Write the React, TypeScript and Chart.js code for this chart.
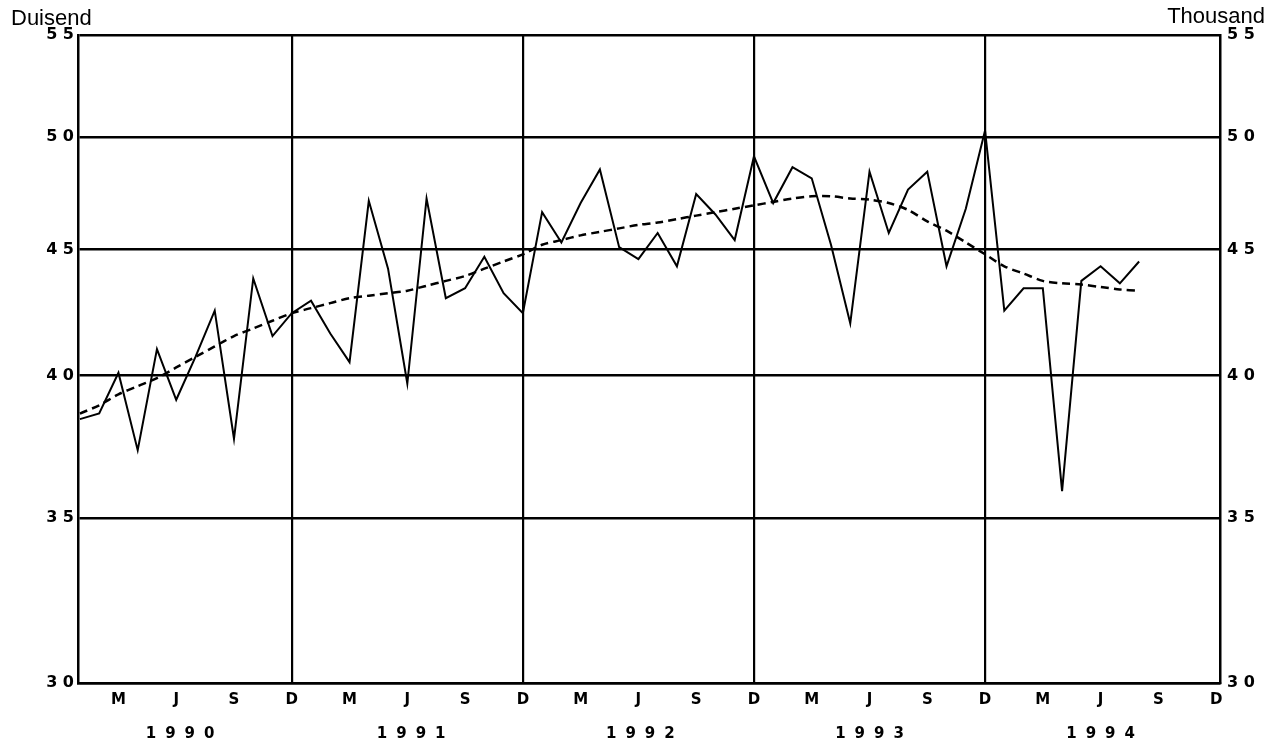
import React, { useEffect, useRef } from 'react';
import { Chart, registerables } from 'chart.js';

Chart.register(...registerables);

// Monthly values, Jan 1990 .. Aug 1994 (thousand)
const monthlyValues = [
  3.84, 3.86, 4.01, 3.73, 4.10, 3.91, 4.07, 4.25, 3.77, 4.38, 4.15, 4.24,
  4.29, 4.16, 4.05, 4.71, 4.42, 3.97, 4.72, 4.30, 4.34, 4.47, 4.32, 4.24,
  4.66, 4.53, 4.70, 4.85, 4.51, 4.46, 4.57, 4.43, 4.74, 4.65, 4.54, 4.91,
  4.70, 4.86, 4.81, 4.52, 4.20, 4.84, 4.57, 4.76, 4.84, 4.43, 4.675, 5.03,
  4.25, 4.34, 4.34, 3.59, 4.37, 4.43, 4.36, 4.45,
];

// Trend line, Jan 1990 .. Aug 1994
const trendValues = [
  3.86, 3.89, 3.93, 3.96, 3.99, 4.03, 4.07, 4.11, 4.15, 4.18, 4.21, 4.24,
  4.26, 4.28, 4.30, 4.31, 4.32, 4.33, 4.35, 4.37, 4.39, 4.42, 4.45, 4.48,
  4.52, 4.54, 4.56, 4.575, 4.59, 4.605, 4.615, 4.63, 4.645, 4.66, 4.675, 4.69,
  4.705, 4.72, 4.73, 4.73, 4.72, 4.715, 4.70, 4.67, 4.62, 4.58, 4.53, 4.48,
  4.43, 4.40, 4.37, 4.36, 4.355, 4.345, 4.335, 4.33,
];

const yTickValues = [3, 3.5, 4, 4.5, 5, 5.5];
const yTickLabels = ['3 0', '3 5', '4 0', '4 5', '5 0', '5 5'];
const monthTickValues = [3, 6, 9, 12, 15, 18, 21, 24, 27, 30, 33, 36, 39, 42, 45, 48, 51, 54, 57, 60];
const monthTickLabels = ['M', 'J', 'S', 'D'];
const yearLabels = ['1990', '1991', '1992', '1993', '1994'];
const yearTickValues = [6.2, 18.2, 30.1, 42.0, 54.0];
const leftTitle = 'Duisend';
const rightTitle = 'Thousand';

const FONT = "'DejaVu Sans', 'Liberation Sans', sans-serif";

const textPlugin = {
  id: 'extraText',
  afterDraw(chart: any) {
    const ctx = chart.ctx;
    const xScale = chart.scales.x;
    ctx.save();
    ctx.fillStyle = '#000';
    ctx.font = `22px 'Liberation Sans', Arial, sans-serif`;
    ctx.textBaseline = 'alphabetic';
    ctx.textAlign = 'left';
    ctx.fillText(leftTitle, 11, 25);
    ctx.textAlign = 'right';
    ctx.fillText(rightTitle, 1265, 23);

    ctx.font = `bold 15px ${FONT}`;
    ctx.textBaseline = 'middle';
    ctx.textAlign = 'left';
    const spacing = 9;
    try { (ctx as any).letterSpacing = spacing + 'px'; } catch (e) {}
    yearLabels.forEach((lab, i) => {
      const cx = xScale.getPixelForValue(yearTickValues[i]);
      const w = ctx.measureText(lab).width;
      ctx.fillText(lab, cx - (w - spacing) / 2, 734);
    });
    ctx.restore();
  },
};

export default function App() {
  const canvasRef = useRef<HTMLCanvasElement | null>(null);

  useEffect(() => {
    if (!canvasRef.current) return;
    const solidData = monthlyValues.map((v, i) => ({ x: i + 1, y: v }));
    const trendData = trendValues.map((v, i) => ({ x: i + 1, y: v }));

    const chart = new Chart(canvasRef.current, {
      type: 'line',
      data: {
        datasets: [
          {
            label: 'Monthly',
            data: solidData,
            borderColor: '#000',
            borderWidth: 2,
            pointRadius: 0,
            tension: 0,
            fill: false,
          },
          {
            label: 'Trend',
            data: trendData,
            borderColor: '#000',
            borderWidth: 2.5,
            borderDash: [8, 5],
            pointRadius: 0,
            tension: 0.3,
            fill: false,
          },
        ],
      },
      options: {
        responsive: false,
        animation: false,
        devicePixelRatio: 1,
        layout: { padding: { top: 35, left: 0, right: 0, bottom: 0 } },
        plugins: {
          legend: { display: false },
          tooltip: { enabled: false },
        },
        scales: {
          x: {
            type: 'linear',
            position: 'bottom',
            min: 0.9,
            max: 60.2,
            afterBuildTicks: (scale: any) => {
              scale.ticks = monthTickValues.map((v) => ({ value: v }));
            },
            afterFit: (scale: any) => {
              scale.height = 62;
            },
            ticks: {
              autoSkip: false,
              maxRotation: 0,
              padding: 8,
              color: '#000',
              font: { family: FONT, size: 15, weight: 'bold' },
              callback: (value: any) => monthTickLabels[((Math.round(value) / 3) - 1) % 4],
            },
            grid: {
              drawTicks: false,
              lineWidth: 2.2,
              color: (ctx: any) =>
                ctx.tick && ctx.tick.value % 12 === 0 && ctx.tick.value < 60 ? '#000' : 'rgba(0,0,0,0)',
            },
            border: { display: true, color: '#000', width: 2.5 },
          },
          y: {
            type: 'logarithmic',
            position: 'left',
            min: 3,
            max: 5.5,
            afterBuildTicks: (scale: any) => {
              scale.ticks = yTickValues.map((v) => ({ value: v }));
            },
            afterFit: (scale: any) => {
              scale.width = 78;
            },
            ticks: {
              padding: 4,
              color: '#000',
              font: { family: FONT, size: 16, weight: 'bold' },
              callback: (_v: any, index: number) => yTickLabels[index],
            },
            grid: { drawTicks: false, color: '#000', lineWidth: 2.5 },
            border: { display: true, color: '#000', width: 2.5 },
          },
          y2: {
            type: 'logarithmic',
            position: 'right',
            min: 3,
            max: 5.5,
            afterBuildTicks: (scale: any) => {
              scale.ticks = yTickValues.map((v) => ({ value: v }));
            },
            afterFit: (scale: any) => {
              scale.width = 57;
            },
            ticks: {
              padding: 7,
              color: '#000',
              font: { family: FONT, size: 16, weight: 'bold' },
              callback: (_v: any, index: number) => yTickLabels[index],
            },
            grid: { drawTicks: false, drawOnChartArea: false, color: 'rgba(0,0,0,0)' },
            border: { display: true, color: '#000', width: 2.5 },
          },
        },
      } as any,
      plugins: [textPlugin],
    });

    return () => {
      chart.destroy();
    };
  }, []);

  return (
    <div style={{ position: 'absolute', left: 0, top: 0, width: 1277, height: 745, background: '#fff' }}>
      <canvas ref={canvasRef} width={1277} height={745} style={{ display: 'block' }} />
    </div>
  );
}
